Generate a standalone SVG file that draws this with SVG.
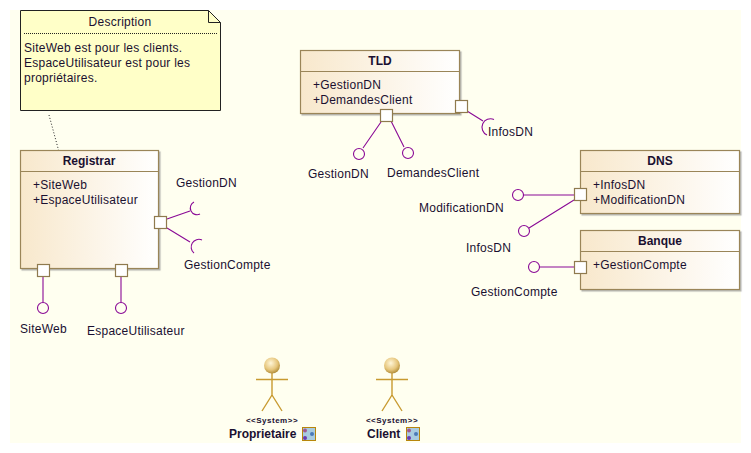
<svg xmlns="http://www.w3.org/2000/svg" width="751" height="453" viewBox="0 0 751 453">
<style>
text{font-family:"Liberation Sans",Arial,sans-serif;font-size:12px;fill:#1a1030;letter-spacing:.25px}
.t{font-weight:bold;text-anchor:middle;letter-spacing:0}
.n{font-weight:bold;letter-spacing:0}
.st{font-size:8px;font-weight:bold;text-anchor:middle;letter-spacing:.5px}
.box{fill:url(#g);stroke:#9a8558;stroke-width:1.2;filter:url(#s)}
.hd{stroke:#9a8558;stroke-width:1}
.port{fill:#fff;stroke:#8f7a4e;stroke-width:1.2}
.c{fill:none;stroke:#8a0a96;stroke-width:1.1}
.a{fill:none;stroke:#c89a30;stroke-width:1.4}
.i{fill:#a8cbe0;stroke:#b8860b;stroke-width:1}
</style>
<defs>
<linearGradient id="g"><stop offset="0" stop-color="#f8e8cc"/><stop offset="1" stop-color="#fff"/></linearGradient>
<radialGradient id="h" cx=".42" cy=".35" r=".7"><stop offset="0" stop-color="#fff6d8"/><stop offset=".6" stop-color="#e6c67c"/><stop offset="1" stop-color="#a9842f"/></radialGradient>
<filter id="s" x="-5%" y="-5%" width="110%" height="110%"><feDropShadow dx="1.5" dy="1.5" stdDeviation=".6" flood-color="#888" flood-opacity=".6"/></filter>
</defs>
<rect width="751" height="453" fill="#fff"/>
<rect x="10" y="10" width="731" height="433" fill="#fffff0"/>
<g id="connectors">
<path d="M49 115L58.500 150" fill="none" stroke="#222" stroke-width="1" stroke-dasharray="1 2"/>
<path class="c" d="M167 219L190 211M194 202A6.700 6.700 0 0 0 200 214M167 228L190 242M202 240A7.700 7.700 0 0 0 194 253"/>
<path class="c" d="M43 276V302M121 276V302"/>
<path class="c" d="M381 122L363 148M391 121L404 147M467 111L483 121M494 119.500A6.500 6.500 0 0 0 487 135"/>
<path class="c" d="M523 195H574M529 228L574 200M539 267H574"/>
<circle class="c" cx="43" cy="308" r="5.500"/><circle class="c" cx="121" cy="308" r="5.500"/>
<circle class="c" cx="359" cy="154" r="5.500"/><circle class="c" cx="408" cy="153" r="5.500"/>
<circle class="c" cx="518" cy="195" r="5.500"/><circle class="c" cx="524" cy="231" r="5.500"/><circle class="c" cx="534" cy="267" r="5.500"/>
</g>
<g id="note">
<path d="M20.500 10.500H208.500L220.500 22.500V110.500H20.500Z" fill="#ffffc8" stroke="#222" stroke-width="1"/>
<path d="M208.500 10.500V22.500H220.500" fill="none" stroke="#222" stroke-width="1"/>
<path d="M24 33.500H217" stroke="#222" stroke-dasharray="1 1"/>
<text x="120" y="26" text-anchor="middle">Description</text>
<text x="24" y="52">SiteWeb est pour les clients.</text>
<text x="24" y="67">EspaceUtilisateur est pour les</text>
<text x="24" y="82">propriétaires.</text>
</g>
<g id="registrar">
<rect class="box" x="20.500" y="150.500" width="138" height="118"/>
<path class="hd" d="M20.500 171.500H158.500"/>
<text class="t" x="89" y="165">Registrar</text>
<text x="33" y="189">+SiteWeb</text><text x="33" y="204">+EspaceUtilisateur</text>
<rect class="port" x="154.500" y="216.500" width="12" height="12"/>
<rect class="port" x="37.500" y="264.500" width="12" height="12"/>
<rect class="port" x="115.500" y="264.500" width="12" height="12"/>
<text x="176" y="187">GestionDN</text><text x="184" y="269">GestionCompte</text>
<text x="20" y="333">SiteWeb</text><text x="87" y="335">EspaceUtilisateur</text>
</g>
<g id="tld">
<rect class="box" x="300.500" y="50.500" width="159" height="63"/>
<path class="hd" d="M300.500 71.500H459.500"/>
<text class="t" x="380" y="65">TLD</text>
<text x="313" y="89">+GestionDN</text><text x="313" y="104">+DemandesClient</text>
<rect class="port" x="380.500" y="109.500" width="12" height="12"/>
<rect class="port" x="455.500" y="100.500" width="12" height="12"/>
<text x="308" y="178">GestionDN</text><text x="387" y="177">DemandesClient</text><text x="488" y="136">InfosDN</text>
</g>
<g id="dns">
<rect class="box" x="580.500" y="150.500" width="159" height="63"/>
<path class="hd" d="M580.500 171.500H739.500"/>
<text class="t" x="660" y="165">DNS</text>
<text x="593" y="189">+InfosDN</text><text x="593" y="204">+ModificationDN</text>
<rect class="port" x="574.500" y="188.500" width="12" height="12"/>
<text x="419" y="212">ModificationDN</text><text x="466" y="252">InfosDN</text>
</g>
<g id="banque">
<rect class="box" x="580.500" y="230.500" width="159" height="59"/>
<path class="hd" d="M580.500 251.500H739.500"/>
<text class="t" x="660" y="245">Banque</text>
<text x="593" y="269">+GestionCompte</text>
<rect class="port" x="574.500" y="261.500" width="12" height="12"/>
<text x="471" y="296">GestionCompte</text>
</g>
<g id="proprietaire">
<path class="a" d="M272 373V395M256 379.500H288M272 395L262 411M272 395L282 411"/>
<circle cx="272" cy="365.500" r="8" fill="url(#h)"/>
<text class="st" x="272" y="423">&lt;&lt;System&gt;&gt;</text>
<text class="n" x="229" y="438">Proprietaire</text>
<rect class="i" x="302.500" y="427.500" width="13" height="13"/>
<circle cx="305" cy="430.500" r="2" fill="#a05a90"/><circle cx="312" cy="434" r="2" fill="#4a7ab8"/><circle cx="305" cy="438" r="2" fill="#6a3ab0"/>
</g>
<g id="client">
<path class="a" d="M392 373V395M376 379.500H408M392 395L382 411M392 395L402 411"/>
<circle cx="392" cy="365.500" r="8" fill="url(#h)"/>
<text class="st" x="392" y="423">&lt;&lt;System&gt;&gt;</text>
<text class="n" x="367" y="438">Client</text>
<rect class="i" x="406.500" y="427.500" width="13" height="13"/>
<circle cx="409" cy="430.500" r="2" fill="#a05a90"/><circle cx="416" cy="434" r="2" fill="#4a7ab8"/><circle cx="409" cy="438" r="2" fill="#6a3ab0"/>
</g>
</svg>
